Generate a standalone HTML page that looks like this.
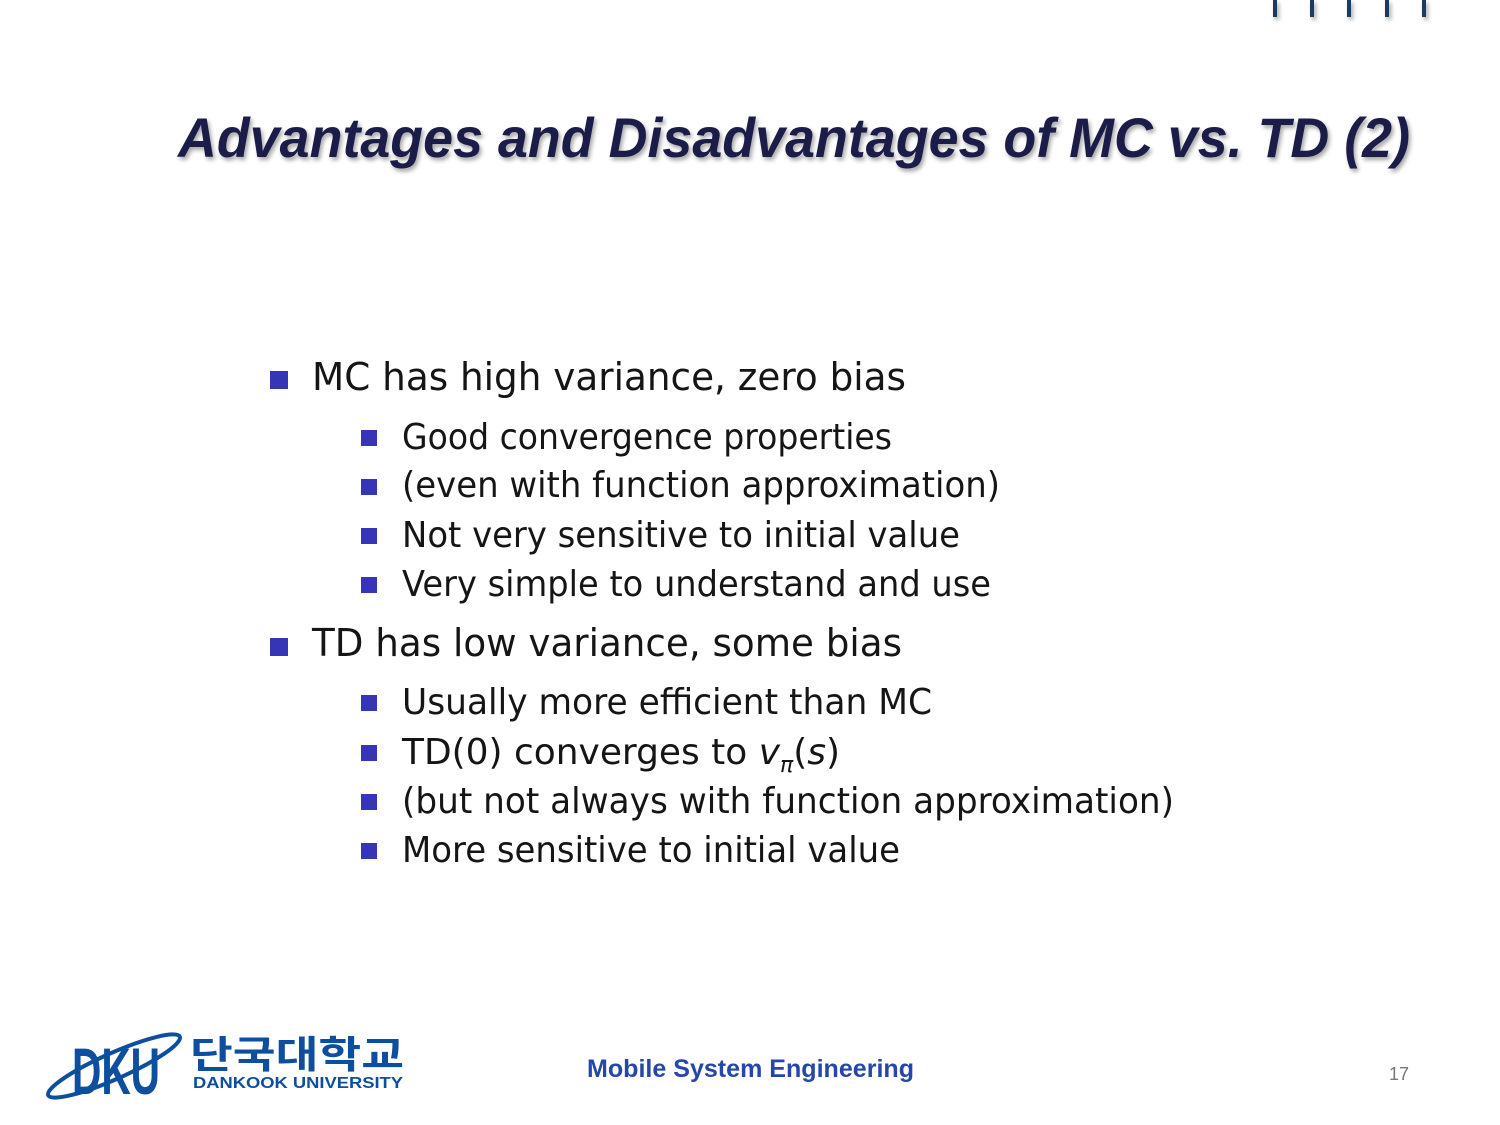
<!DOCTYPE html>
<html><head><meta charset="utf-8"><style>
html,body{margin:0;padding:0;background:#fff;}
svg{display:block;}
</style></head><body>
<svg width="1500" height="1125" viewBox="0 0 1500 1125" xmlns="http://www.w3.org/2000/svg">
<defs><filter id="sh" x="-5%" y="-20%" width="110%" height="150%"><feDropShadow dx="2" dy="3" stdDeviation="2" flood-color="#000" flood-opacity="0.35"/></filter></defs>
<g fill="#1f3a60" filter="url(#sh)">
<rect x="1273" y="0" width="4" height="17"/><rect x="1310" y="0" width="4" height="17"/><rect x="1347" y="0" width="4" height="17"/><rect x="1385" y="0" width="4" height="17"/><rect x="1422" y="0" width="4" height="17"/>
</g>
<text x="178" y="157" font-family="Liberation Sans, sans-serif" font-weight="bold" font-style="italic" font-size="56" fill="#1e1e4a" textLength="1232" lengthAdjust="spacingAndGlyphs" filter="url(#sh)">Advantages and Disadvantages of MC vs. TD (2)</text>
<g font-family="DejaVu Sans, Liberation Sans, sans-serif" fill="#151515">
<rect x="270" y="371" width="18" height="18" fill="#3535b5"/>
<text x="312" y="390" font-size="38" textLength="594" lengthAdjust="spacingAndGlyphs">MC has high variance, zero bias</text>
<rect x="361" y="430" width="16" height="16" fill="#3535b5"/>
<text x="402" y="449" font-size="36" textLength="490" lengthAdjust="spacingAndGlyphs">Good convergence properties</text>
<rect x="361" y="479" width="16" height="16" fill="#3535b5"/>
<text x="402" y="497" font-size="36" textLength="598" lengthAdjust="spacingAndGlyphs">(even with function approximation)</text>
<rect x="361" y="528" width="16" height="16" fill="#3535b5"/>
<text x="402" y="547" font-size="36" textLength="558" lengthAdjust="spacingAndGlyphs">Not very sensitive to initial value</text>
<rect x="361" y="577" width="16" height="16" fill="#3535b5"/>
<text x="402" y="596" font-size="36" textLength="589" lengthAdjust="spacingAndGlyphs">Very simple to understand and use</text>
<rect x="270" y="638" width="18" height="18" fill="#3535b5"/>
<text x="312" y="656" font-size="38" textLength="590" lengthAdjust="spacingAndGlyphs">TD has low variance, some bias</text>
<rect x="361" y="695" width="16" height="16" fill="#3535b5"/>
<text x="402" y="714" font-size="36" textLength="530" lengthAdjust="spacingAndGlyphs">Usually more efficient than MC</text>
<rect x="361" y="745" width="16" height="16" fill="#3535b5"/>
<text x="402" y="764" font-size="36" textLength="438" lengthAdjust="spacingAndGlyphs">TD(0) converges to <tspan font-style="italic">v</tspan><tspan font-size="22" font-style="italic" dy="8">π</tspan><tspan dy="-8">(</tspan><tspan font-style="italic">s</tspan>)</text>
<rect x="361" y="794" width="16" height="16" fill="#3535b5"/>
<text x="402" y="813" font-size="36" textLength="772" lengthAdjust="spacingAndGlyphs">(but not always with function approximation)</text>
<rect x="361" y="843" width="16" height="16" fill="#3535b5"/>
<text x="402" y="862" font-size="36" textLength="498" lengthAdjust="spacingAndGlyphs">More sensitive to initial value</text>
</g>
<g>
<text x="72" y="1094" font-family="Liberation Sans, sans-serif" font-weight="bold" font-size="66" fill="#0d4f9e" textLength="88" lengthAdjust="spacingAndGlyphs">DKU</text>
<ellipse cx="114" cy="1066" rx="72" ry="13" transform="rotate(-24 114 1066)" fill="none" stroke="#0d4f9e" stroke-width="4"/>
<text x="190" y="1068" font-family="Liberation Sans, 'Noto Sans CJK KR', sans-serif" font-weight="bold" font-size="38" fill="#0d4f9e" textLength="214" lengthAdjust="spacingAndGlyphs">단국대학교</text>
<text x="193" y="1088" font-family="Liberation Sans, sans-serif" font-weight="bold" font-size="16" fill="#0d4f9e" textLength="210" lengthAdjust="spacingAndGlyphs">DANKOOK UNIVERSITY</text>
</g>
<text x="587" y="1077" font-family="Liberation Sans, sans-serif" font-weight="bold" font-size="25" fill="#2447a8" textLength="327" lengthAdjust="spacingAndGlyphs">Mobile System Engineering</text>
<text x="1389" y="1080" font-family="Liberation Sans, sans-serif" font-size="18" fill="#777">17</text>
</svg>
</body></html>
